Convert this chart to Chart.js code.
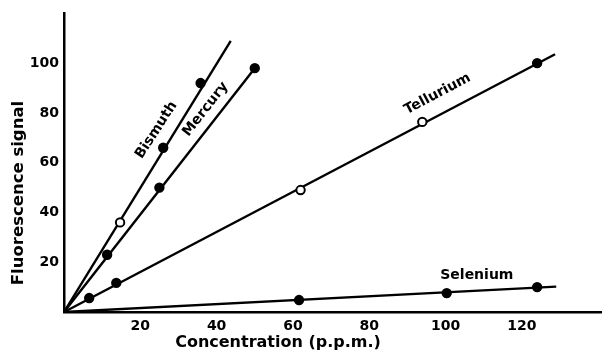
<!DOCTYPE html>
<html>
<head>
<meta charset="utf-8">
<script src="https://cdn.jsdelivr.net/npm/chart.js@4"></script>
<style>
  html, body { margin: 0; padding: 0; background: #fff; }
  #wrap { width: 602px; height: 354px; }
</style>
</head>
<body>
<div id="wrap"><canvas id="fluor"></canvas></div>
<script>
// measured points, concentration (p.p.m.) vs fluorescence signal
const bismuthX = [14.7, 26, 35.8];
const bismuthY = [36, 66, 92];
const bismuthOpen = [true, false, false];

const mercuryX = [11.3, 25, 50];
const mercuryY = [23, 50, 98];
const mercuryOpen = [false, false, false];

const telluriumX = [6.6, 13.7, 62, 93.9, 124];
const telluriumY = [5.6, 11.7, 49, 76.4, 100];
const telluriumOpen = [false, false, true, true, false];

const seleniumX = [61.6, 100.3, 124];
const seleniumY = [4.8, 7.6, 10];
const seleniumOpen = [false, false, false];

// calibration lines drawn through the origin: [x, y] of the far end
const bismuthEnd = [43.7, 109];
const mercuryEnd = [50, 98];
const telluriumEnd = [128.7, 103.6];
const seleniumEnd = [129, 10.2];

const xTicks = [20, 40, 60, 80, 100, 120];
const yTicks = [20, 40, 60, 80, 100];

// series names, where they sit (data units) and their rotation
const seriesNames = ["Bismuth", "Mercury", "Tellurium", "Selenium"];
const nameAt = [[24.2, 73.1], [37.1, 81.5], [97.9, 87.6], [108.2, 14.9]];
const nameAngle = [-57, -52, -28, 0];

const FONT = "DejaVu Sans";

function pts(xs, ys) {
  return xs.map((x, i) => ({ x: x, y: ys[i] }));
}

function fitLine(end) {
  return {
    data: [{ x: 0, y: 0 }, { x: end[0], y: end[1] }],
    showLine: true,
    borderColor: "#000",
    borderWidth: 2.4,
    pointRadius: 0,
    order: 2
  };
}

function markers(xs, ys, open) {
  return {
    data: pts(xs, ys),
    showLine: false,
    pointRadius: 4.2,
    pointBorderWidth: 2,
    pointBorderColor: "#000",
    pointBackgroundColor: open.map(o => o ? "#fff" : "#000"),
    order: 1
  };
}

// axis titles and the element names written beside each line
const annotate = {
  id: "annotate",
  afterDraw(chart) {
    const c = chart.ctx;
    const xs = chart.scales.x, ys = chart.scales.y;
    c.save();
    c.fillStyle = "#000";
    c.textAlign = "center";
    c.textBaseline = "middle";

    c.font = "bold 14px '" + FONT + "'";
    seriesNames.forEach((name, i) => {
      const px = xs.getPixelForValue(nameAt[i][0]);
      const py = ys.getPixelForValue(nameAt[i][1]);
      c.save();
      c.translate(px, py);
      c.rotate(nameAngle[i] * Math.PI / 180);
      c.fillText(name, 0, 0);
      c.restore();
    });

    c.font = "bold 16px '" + FONT + "'";
    c.fillText("Concentration (p.p.m.)", 278, 343);
    c.save();
    c.translate(19, 193);
    c.rotate(-Math.PI / 2);
    c.font = "bold 16.5px '" + FONT + "'";
    c.fillText("Fluorescence signal", 0, 0);
    c.restore();
    c.restore();
  }
};

new Chart(document.getElementById("fluor"), {
  type: "scatter",
  data: {
    datasets: [
      fitLine(bismuthEnd), markers(bismuthX, bismuthY, bismuthOpen),
      fitLine(mercuryEnd), markers(mercuryX, mercuryY, mercuryOpen),
      fitLine(telluriumEnd), markers(telluriumX, telluriumY, telluriumOpen),
      fitLine(seleniumEnd), markers(seleniumX, seleniumY, seleniumOpen)
    ]
  },
  options: {
    responsive: true,
    maintainAspectRatio: false,
    animation: false,
    layout: { autoPadding: false, padding: { top: 12, right: 0, left: 0, bottom: 0 } },
    plugins: {
      legend: { display: false },
      tooltip: { enabled: false }
    },
    scales: {
      x: {
        type: "linear",
        min: 0,
        max: 141,
        afterFit(s) { s.height = 42; },
        afterBuildTicks(s) { s.ticks = xTicks.map(v => ({ value: v })); },
        grid: { display: false, tickLength: 0 },
        border: { display: true, color: "#000", width: 2.5 },
        ticks: {
          color: "#000",
          padding: 6,
          font: { family: FONT, size: 14, weight: "bold" }
        }
      },
      y: {
        type: "linear",
        min: 0,
        max: 120,
        afterFit(s) { s.width = 64; },
        afterBuildTicks(s) { s.ticks = yTicks.map(v => ({ value: v })); },
        grid: { display: false, tickLength: 0 },
        border: { display: true, color: "#000", width: 2.5 },
        ticks: {
          color: "#000",
          padding: 5,
          font: { family: FONT, size: 14, weight: "bold" }
        }
      }
    }
  },
  plugins: [annotate]
});
</script>
</body>
</html>
